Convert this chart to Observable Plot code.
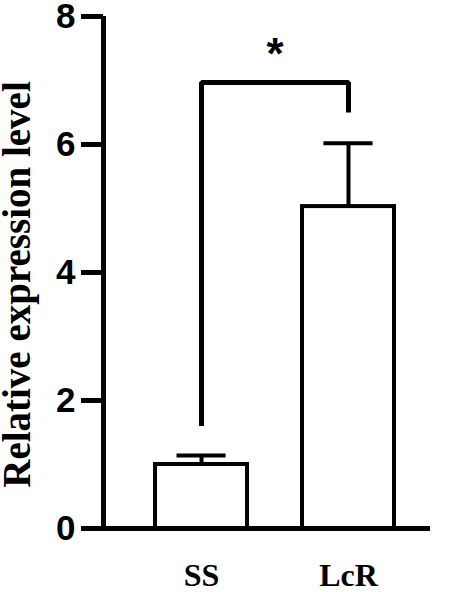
<!DOCTYPE html>
<html>
<head>
<meta charset="utf-8">
<script src="https://cdn.jsdelivr.net/npm/d3@7"></script>
<script src="https://cdn.jsdelivr.net/npm/@observablehq/plot@0.6"></script>
<style>
  html, body { margin: 0; padding: 0; background: #fff; }
  #chart svg { display: block; overflow: visible; }
</style>
</head>
<body>
<div id="chart"></div>
<script>
// Data
const categories = ["SS", "LcR"];
const means = [1.0, 5.03];
const errors = [0.14, 0.99];
const yTicks = [0, 2, 4, 6, 8];
const yLabel = "Relative expression level";
// significance bracket: from SS (left leg bottom) to LcR (right leg bottom)
const bracketLeftBottom = 1.6;
const bracketTop = 6.97;
const bracketRightBottom = 6.5;
const sigLabel = "*";
const sigLabelY = 7.4;

const rows = categories.map((c, i) => ({i, c, mean: means[i], top: means[i] + errors[i]}));
const barHalf = 0.313;
const capHalf = 0.167;
const xDomain = [-0.667, 1.558];

const bracket = [
  {x: 0, y: bracketLeftBottom},
  {x: 0, y: bracketTop},
  {x: 1, y: bracketTop},
  {x: 1, y: bracketRightBottom}
];

const chart = Plot.plot({
  width: 450,
  height: 592,
  marginLeft: 103,
  marginRight: 20,
  marginTop: 16,
  marginBottom: 64,
  style: {background: "#fff", overflow: "visible"},
  x: {type: "linear", domain: xDomain},
  y: {domain: [0, 8]},
  marks: [
    // error bars
    Plot.ruleX(rows, {x: "i", y1: "mean", y2: "top", stroke: "black", strokeWidth: 4}),
    Plot.ruleY(rows, {y: "top", x1: d => d.i - capHalf, x2: d => d.i + capHalf, stroke: "black", strokeWidth: 4}),
    // bars
    Plot.rectY(rows, {x1: d => d.i - barHalf, x2: d => d.i + barHalf, y1: 0, y2: "mean", fill: "white", stroke: "black", strokeWidth: 4}),
    // bracket
    Plot.line(bracket, {x: "x", y: "y", stroke: "black", strokeWidth: 5, strokeLinejoin: "miter", strokeLinecap: "butt"}),
    Plot.text([sigLabel], {x: (categories.length - 1) / 2, y: sigLabelY, text: d => d, fontSize: 44, fontWeight: "bold", fontFamily: "Liberation Sans", fill: "black", lineAnchor: "middle"}),
    // axes lines
    Plot.ruleX([xDomain[0]], {stroke: "black", strokeWidth: 5}),
    Plot.ruleY([0], {stroke: "black", strokeWidth: 5}),
    Plot.axisY({ticks: yTicks, tickSize: 22, tickPadding: 6, strokeWidth: 5, tickFormat: d3.format("d"), fontSize: 35, fontWeight: "bold", fontFamily: "Liberation Sans", fill: "black", label: null}),
    Plot.axisX({ticks: categories.map((c, i) => i), tickFormat: i => categories[i], tickSize: 0, tickPadding: 35, fontSize: 32, fontWeight: "bold", fontFamily: "Liberation Serif", fill: "black", label: null}),
    Plot.text([yLabel], {frameAnchor: "left", textAnchor: "middle", dx: -86, dy: 12, rotate: -90, text: d => d, fontSize: 39, fontWeight: "bold", fontFamily: "Liberation Serif", fill: "black", lineAnchor: "middle"})
  ]
});
document.getElementById("chart").appendChild(chart);
</script>
</body>
</html>
